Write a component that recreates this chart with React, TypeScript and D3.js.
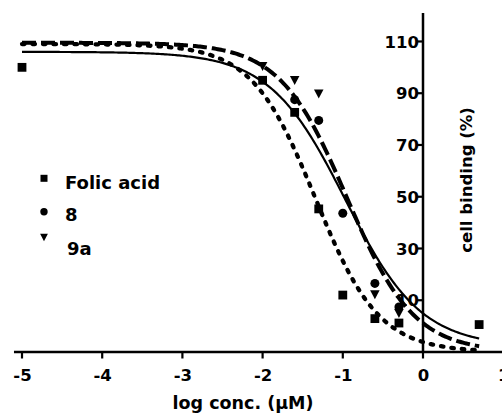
import React from "react";
import * as d3 from "d3";

// ---- data ----
const xTicks = [-5, -4, -3, -2, -1, 0, 1];
const yTicks = [10, 30, 50, 70, 90, 110];

const folicX = [-5, -2, -1.6, -1.3, -1, -0.6, -0.3, 0.7];
const folicY = [100, 95, 82.6, 45.3, 12, 2.9, 1.2, 0.6];

const c8X = [-1.6, -1.3, -1, -0.6, -0.3];
const c8Y = [87.5, 79.5, 43.6, 16.5, 7.4];

const c9aX = [-2, -1.6, -1.3, -0.6, -0.3];
const c9aY = [100.4, 95, 89.8, 12.2, 5];

// fitted sigmoid parameters: [top, bottom, logIC50, hill]
const folicFit = [109, -10, -1.343, 1.097];
const c8Fit = [106, -8, -0.97, 0.92];
const c9aFit = [109.5, -10, -0.95, 1.04];
const fitRange = [-5, 0.7];

const legendLabels = ["Folic acid", "8", "9a"];

const FONT = "'DejaVu Sans', sans-serif";

function fitCurve(p: number[]) {
  const [top, bottom, c, h] = p;
  return d3
    .range(fitRange[0], fitRange[1] + 0.0001, 0.02)
    .map((x) => [x, bottom + (top - bottom) / (1 + Math.pow(10, (x - c) * h))] as [number, number]);
}

export default function App() {
  const W = 502;
  const H = 414;
  const x = d3.scaleLinear().domain([-5, 0]).range([22, 423]);
  const y = d3.scaleLinear().domain([-10, 121]).range([352, 13]);
  const line = d3
    .line<[number, number]>()
    .x((d) => x(d[0]))
    .y((d) => y(d[1]));

  const xAxisY = y(-10);
  const yAxisX = x(0);

  const tri = (cx: number, cy: number, s: number) =>
    `M${cx - s / 2},${cy - s * 0.45} L${cx + s / 2},${cy - s * 0.45} L${cx},${cy + s * 0.5} Z`;

  return (
    <svg
      width={W}
      height={H}
      style={{ position: "absolute", left: 0, top: 0, background: "#fff" }}
      fontFamily={FONT}
      fontWeight="bold"
    >
      <rect x={0} y={0} width={W} height={H} fill="#fff" />
      {/* curves */}
      <path d={line(fitCurve(c8Fit)) || ""} fill="none" stroke="#000" strokeWidth={2.2} />
      <path
        d={line(fitCurve(c9aFit)) || ""}
        fill="none"
        stroke="#000"
        strokeWidth={4}
        strokeDasharray="14 5"
      />
      <path
        d={line(fitCurve(folicFit)) || ""}
        fill="none"
        stroke="#000"
        strokeWidth={4.3}
        strokeDasharray="2.5 8"
        strokeLinecap="round"
      />
      {/* points */}
      {folicX.map((v, i) => (
        <rect key={"f" + i} x={x(v) - 4.4} y={y(folicY[i]) - 4.4} width={8.8} height={8.8} fill="#000" />
      ))}
      {c8X.map((v, i) => (
        <circle key={"c" + i} cx={x(v)} cy={y(c8Y[i])} r={4.5} fill="#000" />
      ))}
      {c9aX.map((v, i) => (
        <path key={"t" + i} d={tri(x(v), y(c9aY[i]), 9.5)} fill="#000" />
      ))}
      {/* x axis */}
      <line x1={x(-5.1)} x2={W} y1={xAxisY} y2={xAxisY} stroke="#000" strokeWidth={2.5} />
      {xTicks.map((t) => (
        <g key={"xt" + t}>
          <line x1={x(t)} x2={x(t)} y1={xAxisY} y2={xAxisY + 6.5} stroke="#000" strokeWidth={2.2} />
          <text x={x(t) + 0.5} y={380.5} textAnchor="middle" fontSize={16.5}>
            {t}
          </text>
        </g>
      ))}
      <text x={243} y={408.5} textAnchor="middle" fontSize={17.5}>
        log conc. (μM)
      </text>
      {/* y axis */}
      <line x1={yAxisX} x2={yAxisX} y1={y(121)} y2={xAxisY} stroke="#000" strokeWidth={2.5} />
      {yTicks.map((t) => (
        <g key={"yt" + t}>
          <line x1={yAxisX - 6} x2={yAxisX} y1={y(t)} y2={y(t)} stroke="#000" strokeWidth={2.2} />
          <text x={419} y={y(t) + 6.2} textAnchor="end" fontSize={16.5}>
            {t}
          </text>
        </g>
      ))}
      <text
        transform={`translate(472,180) rotate(-90)`}
        textAnchor="middle"
        fontSize={16.5}
      >
        cell binding (%)
      </text>
      {/* legend */}
      <rect x={44 - 3.5} y={178.3 - 3.5} width={7} height={7} fill="#000" />
      <text x={65} y={188.5} fontSize={18}>
        {legendLabels[0]}
      </text>
      <circle cx={44} cy={211.7} r={3.7} fill="#000" />
      <text x={65} y={220.5} fontSize={18}>
        {legendLabels[1]}
      </text>
      <path d={tri(44, 237.3, 7.8)} fill="#000" />
      <text x={67} y={254.5} fontSize={18}>
        {legendLabels[2]}
      </text>
    </svg>
  );
}
